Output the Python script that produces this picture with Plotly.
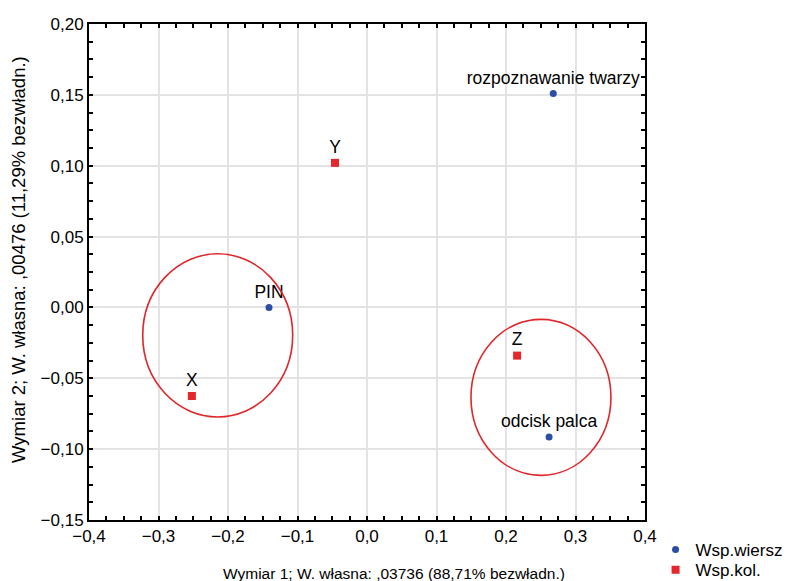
import plotly.graph_objects as go

# Row coordinates (Wsp.wiersz)
row_labels = ["rozpoznawanie twarzy", "PIN", "odcisk palca"]
row_x = [0.268, -0.141, 0.262]
row_y = [0.151, 0.000, -0.0915]

# Column coordinates (Wsp.kol.)
col_labels = ["Y", "X", "Z"]
col_x = [-0.046, -0.252, 0.216]
col_y = [0.102, -0.0625, -0.034]

# Highlight ellipses (x0, y0, x1, y1) in data units
ellipses = [(-0.3227, -0.0773, -0.1069, 0.0379),
            (0.1496, -0.1185, 0.351, -0.0084)]

x_title = "Wymiar 1; W. własna: ,03736 (88,71% bezwładn.)"
y_title = "Wymiar 2; W. własna: ,00476 (11,29% bezwładn.)"

FONT = "Liberation Sans, Arial, sans-serif"

fig = go.Figure()
fig.add_trace(go.Scatter(
    x=row_x, y=row_y, mode="markers+text", name="Wsp.wiersz",
    text=row_labels, textposition="top center",
    textfont=dict(family=FONT, size=17.5, color="black"),
    marker=dict(symbol="circle", size=7, color="#2B4DA3"),
    cliponaxis=False, legend="legend",
))
fig.add_trace(go.Scatter(
    x=col_x, y=col_y, mode="markers+text", name="Wsp.kol.",
    text=col_labels, textposition="top center",
    textfont=dict(family=FONT, size=17.5, color="black"),
    marker=dict(symbol="square", size=8, color="#E5262A"),
    cliponaxis=False, legend="legend2",
))

for (x0, y0, x1, y1) in ellipses:
    fig.add_shape(type="circle", xref="x", yref="y", x0=x0, y0=y0, x1=x1, y1=y1,
                  line=dict(color="#E0262A", width=1.6))

axis_common = dict(
    showgrid=True, gridcolor="#E3E3E3", gridwidth=1.5,
    zeroline=False, showline=True, linecolor="black", linewidth=2,
    mirror="ticks", ticks="inside", ticklen=4, tickwidth=2, tickcolor="black",
    tickfont=dict(family=FONT, size=17, color="black"),
    automargin=False,
)

fig.update_xaxes(range=[-0.4, 0.4], dtick=0.1, tickformat=".1f",
                 minor=dict(dtick=0.025, ticks="inside", ticklen=4, tickwidth=2,
                            tickcolor="black", showgrid=False),
                 **axis_common)
fig.update_yaxes(range=[-0.15, 0.20], dtick=0.05, tickformat=".2f",
                 minor=dict(dtick=0.0125, ticks="inside", ticklen=4, tickwidth=2,
                            tickcolor="black", showgrid=False),
                 **axis_common)

fig.add_annotation(text=x_title, xref="paper", yref="paper", x=0.549, y=-0.107,
                   yanchor="middle", xanchor="center", showarrow=False,
                   font=dict(family=FONT, size=15.5, color="black"))
fig.add_annotation(text=y_title, xref="paper", yref="paper", x=-0.128, y=0.526,
                   textangle=-90, xanchor="center", yanchor="middle", showarrow=False,
                   font=dict(family=FONT, size=18.5, color="black"))

legend_style = dict(xanchor="left", yanchor="top",
                    font=dict(family=FONT, size=17, color="black"),
                    bgcolor="rgba(0,0,0,0)")

fig.update_layout(
    width=790, height=581,
    margin=dict(l=81, r=153, t=16, b=69, autoexpand=False),
    paper_bgcolor="white", plot_bgcolor="white",
    separators=", ",
    showlegend=True,
    legend=dict(x=1.019, y=-0.024, **legend_style),
    legend2=dict(x=1.019, y=-0.065, **legend_style),
)

fig.write_html("out.html")
